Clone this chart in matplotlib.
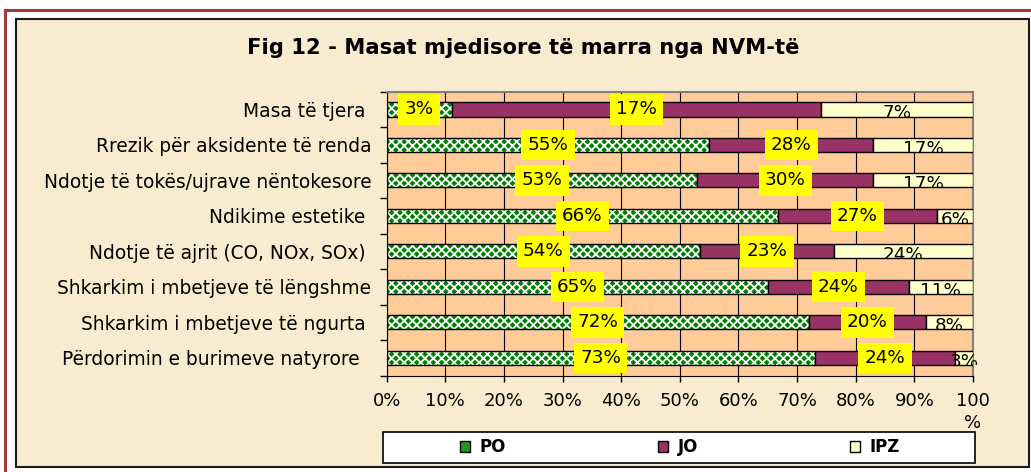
import matplotlib.pyplot as plt
import numpy as np
from matplotlib.patches import Rectangle, Patch

# data (percent labels as shown on the chart)
categories = ['Masa të tjera ', 'Rrezik për aksidente të renda',
              'Ndotje të tokës/ujrave nëntokesore', 'Ndikime estetike ',
              'Ndotje të ajrit (CO, NOx, SOx) ', 'Shkarkim i mbetjeve të lëngshme',
              'Shkarkim i mbetjeve të ngurta ', 'Përdorimin e burimeve natyrore  ']
po = [3, 55, 53, 66, 54, 65, 72, 73]
jo = [17, 28, 30, 27, 23, 24, 20, 24]
ipz = [7, 17, 17, 6, 24, 11, 8, 3]
series_names = ['PO', 'JO', 'IPZ']
xtick_labels = ['0%', '10%', '20%', '30%', '40%', '50%', '60%', '70%', '80%', '90%', '100\n%']
title = 'Fig 12 - Masat mjedisore të marra nga NVM-të'

W, H = 1031, 472
fig = plt.figure(figsize=(W / 100, H / 100), dpi=100)
fig.patch.set_facecolor('white')

def px(x0, y0, x1, y1):
    # pixel box -> figure fraction rectangle args
    return (x0 / W, 1 - y1 / H), (x1 - x0) / W, (y1 - y0) / H

# outer red frame and parchment panel
xy, w, h = px(5, 10, 1040, 480)
fig.patches.append(Rectangle(xy, w, h, transform=fig.transFigure, fill=False,
                             edgecolor='#9e3a3a', lw=2.2, zorder=-3))
xy, w, h = px(16, 19, 1029, 467)
fig.patches.append(Rectangle(xy, w, h, transform=fig.transFigure, facecolor='#f8ebd0',
                             edgecolor='#1a1a1a', lw=1.5, zorder=-2))

ax = fig.add_axes([386.7 / W, 1 - 375.5 / H, (973 - 386.7) / W, (375.5 - 91.7) / H])
ax.set_facecolor('#ffcc99')

po_a, jo_a, ipz_a = np.array(po, float), np.array(jo, float), np.array(ipz, float)
tot = po_a + jo_a + ipz_a
po_s, jo_s, ipz_s = po_a / tot * 100, jo_a / tot * 100, ipz_a / tot * 100
y = np.arange(len(categories))
bh = 0.4

plt.rcParams['hatch.linewidth'] = 1.3
ax.barh(y, po_s, height=bh, color='#008000', edgecolor='white', hatch='xxxx', lw=0, zorder=2)
ax.barh(y, po_s, height=bh, fill=False, edgecolor='black', lw=1, zorder=3)
ax.barh(y, jo_s, left=po_s, height=bh, color='#993366', edgecolor='black', lw=1, zorder=3)
ax.barh(y, ipz_s, left=po_s + jo_s, height=bh, color='#ffffcc', edgecolor='black', lw=1, zorder=3)

lbl = dict(ha='center', va='center', fontsize=13.2, zorder=5,
           bbox=dict(boxstyle='square,pad=0.34', facecolor='#ffff00', edgecolor='none'))
for i in range(len(categories)):
    ax.text(po_s[i] / 2, y[i], '%d%%' % po[i], **lbl)
    ax.text(po_s[i] + jo_s[i] / 2, y[i], '%d%%' % jo[i], **lbl)
    t = ax.text(po_s[i] + jo_s[i] + ipz_s[i] / 2, y[i] + bh / 2 + 0.05, '%d%%' % ipz[i],
                ha='center', va='baseline', fontsize=13.2, zorder=5, clip_on=True)
    clip = Rectangle((-10, y[i] - bh / 2), 120, bh, transform=ax.transData)
    t.set_clip_box(None)
    t.set_clip_path(clip)

ax.set_xlim(0, 100)
ax.set_ylim(len(categories) - 0.5, -0.5)
ax.set_xticks(np.arange(0, 101, 10))
ax.set_xticklabels(xtick_labels, fontsize=13, linespacing=1.25)
ax.tick_params(axis='x', direction='out', length=4, width=1, pad=8)
ax.xaxis.grid(True, color='black', lw=0.8)
ax.set_axisbelow(True)

ax.set_yticks(np.arange(-0.5, len(categories), 1))
ax.set_yticklabels([])
ax.set_yticks(y, minor=True)
ax.set_yticklabels(categories, minor=True, fontsize=13.4)
ax.tick_params(axis='y', which='major', direction='out', length=5, width=1)
ax.tick_params(axis='y', which='minor', length=0, pad=11)

for s in ['left', 'bottom']:
    ax.spines[s].set_color('black')
for s in ['top', 'right']:
    ax.spines[s].set_color('#808080')
    ax.spines[s].set_linewidth(1.5)

fig.text(523 / W, 1 - 47.5 / H, title, ha='center', va='center', fontsize=15.2, weight='bold')

# legend box
xy, w, h = px(383.3, 431.7, 975, 463.3)
fig.patches.append(Rectangle(xy, w, h, transform=fig.transFigure, facecolor='white',
                             edgecolor='black', lw=1.2, zorder=1))
handles = [Patch(facecolor='#1e9a1e', edgecolor='black'),
           Patch(facecolor='#993366', edgecolor='black'),
           Patch(facecolor='#ffffcc', edgecolor='black')]
fig.legend(handles, series_names, loc='center', bbox_to_anchor=(680 / W, 1 - 447.5 / H),
           ncol=3, frameon=False, prop=dict(size=12, weight='bold'),
           handlelength=0.6, handleheight=0.6, handletextpad=0.6, columnspacing=9.1)

fig.savefig('out.png', dpi=100)
